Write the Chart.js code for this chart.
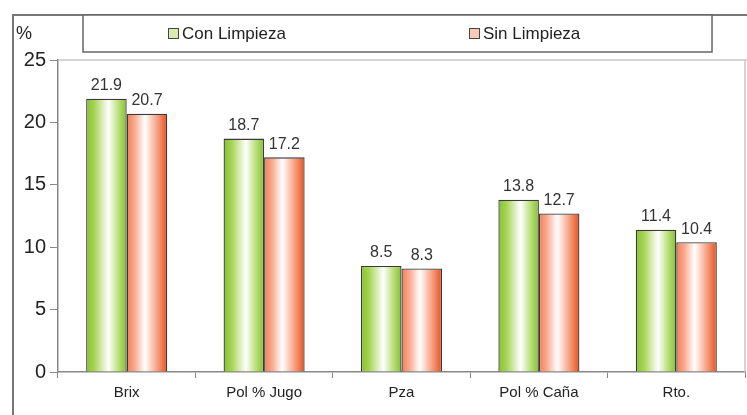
<!DOCTYPE html>
<html>
<head>
<meta charset="utf-8">
<script src="https://cdn.jsdelivr.net/npm/chart.js@4.4.1/dist/chart.umd.min.js"></script>
<style>
  html, body { margin: 0; padding: 0; background: #fff; }
  #wrap { width: 747px; height: 415px; position: relative; }
</style>
</head>
<body>
<div id="wrap"><canvas id="grafico"></canvas></div>
<script>
// Données du graphique
const categorias = ['Brix', 'Pol % Jugo', 'Pza', 'Pol % Caña', 'Rto.'];
const conLimpieza = [21.9, 18.7, 8.5, 13.8, 11.4];
const sinLimpieza = [20.7, 17.2, 8.3, 12.7, 10.4];
const etiquetasSeries = ['Con Limpieza', 'Sin Limpieza'];
const ticksY = [0, 5, 10, 15, 20, 25];

// dégradés horizontaux (effet cylindre)
const couleurs = [
  { arrets: [[0, '#86c232'], [0.2, '#a6d455'], [0.55, '#ffffff'], [0.8, '#b9df78'], [1, '#84bf30']], legende: '#d8ecb0' },
  { arrets: [[0, '#f47c55'], [0.2, '#f8ab90'], [0.45, '#ffffff'], [0.75, '#f7a183'], [1, '#e8501c']], legende: '#f9c9b8' }
];

const pluginDegrade = {
  id: 'degrade',
  beforeDatasetsDraw(chart) {
    const ctx = chart.ctx;
    chart.data.datasets.forEach((ds, i) => {
      const meta = chart.getDatasetMeta(i);
      meta.data.forEach(el => {
        const x0 = el.x - el.width / 2, x1 = el.x + el.width / 2;
        const g = ctx.createLinearGradient(x0, 0, x1, 0);
        couleurs[i].arrets.forEach(a => g.addColorStop(a[0], a[1]));
        el.options.backgroundColor = g;
      });
    });
  },
  afterDatasetsDraw(chart) {
    // valeurs au-dessus des barres
    const ctx = chart.ctx;
    ctx.save();
    ctx.font = '16px "Liberation Sans", Arial, sans-serif';
    ctx.fillStyle = '#333';
    ctx.textAlign = 'center';
    ctx.textBaseline = 'bottom';
    chart.data.datasets.forEach((ds, i) => {
      chart.getDatasetMeta(i).data.forEach((el, j) => {
        ctx.fillText(ds.data[j].toFixed(1), el.x, el.y - 5);
      });
    });
    ctx.restore();
  },
  afterDraw(chart) {
    const ctx = chart.ctx;
    const a = chart.chartArea;
    ctx.save();
    // cadre extérieur
    ctx.strokeStyle = '#777';
    ctx.lineWidth = 2;
    ctx.beginPath();
    ctx.moveTo(13, 415);
    ctx.lineTo(13, 15);
    ctx.lineTo(747, 15);
    ctx.stroke();
    // cadre de la zone de tracé (haut et droite)
    ctx.strokeStyle = '#c8c8c8';
    ctx.lineWidth = 1.5;
    ctx.beginPath();
    ctx.moveTo(a.left, a.top);
    ctx.lineTo(747, a.top);
    ctx.moveTo(a.right, a.top);
    ctx.lineTo(a.right, a.bottom);
    ctx.stroke();
    // boîte de légende
    ctx.fillStyle = '#fff';
    ctx.fillRect(83, 15, 629, 37);
    ctx.strokeStyle = '#666';
    ctx.lineWidth = 1.5;
    ctx.strokeRect(83, 15, 629, 37);
    ctx.font = '17px "Liberation Sans", Arial, sans-serif';
    ctx.textBaseline = 'middle';
    ctx.textAlign = 'left';
    const posX = [168, 469];
    etiquetasSeries.forEach((lab, i) => {
      ctx.fillStyle = couleurs[i].legende;
      ctx.fillRect(posX[i], 28, 10, 10);
      ctx.strokeStyle = '#444';
      ctx.lineWidth = 1;
      ctx.strokeRect(posX[i] + 0.5, 28.5, 10, 10);
      ctx.fillStyle = '#222';
      ctx.fillText(lab, posX[i] + 14, 34);
    });
    // unité
    ctx.font = '18px "Liberation Sans", Arial, sans-serif';
    ctx.fillStyle = '#222';
    ctx.fillText('%', 16, 34);
    ctx.restore();
  }
};

new Chart(document.getElementById('grafico'), {
  type: 'bar',
  data: {
    labels: categorias,
    datasets: etiquetasSeries.map((lab, i) => ({
      label: lab,
      data: i === 0 ? conLimpieza : sinLimpieza,
      backgroundColor: () => couleurs[i].arrets[4][1],
      borderColor: '#3a3a3a',
      borderWidth: 1.3,
      borderSkipped: 'bottom',
      categoryPercentage: 0.59,
      barPercentage: 1.0
    }))
  },
  options: {
    responsive: true,
    maintainAspectRatio: false,
    animation: false,
    layout: { padding: { left: 0, right: 2, top: 60, bottom: 0 } },
    plugins: {
      legend: { display: false },
      tooltip: { enabled: false }
    },
    scales: {
      x: {
        offset: true,
        grid: { drawOnChartArea: false, drawTicks: true, tickLength: 6, color: '#888', offset: true },
        border: { color: '#888', width: 1.5 },
        ticks: {
          color: '#222',
          padding: 6,
          font: { family: '"Liberation Sans", Arial, sans-serif', size: 15 }
        },
        afterFit(scale) { scale.height = 43; }
      },
      y: {
        min: 0,
        max: 25,
        afterBuildTicks(scale) { scale.ticks = ticksY.map(v => ({ value: v })); },
        grid: { drawOnChartArea: false, drawTicks: true, tickLength: 8, color: '#888' },
        border: { color: '#888', width: 1.5 },
        ticks: {
          color: '#222',
          padding: 4,
          font: { family: '"Liberation Sans", Arial, sans-serif', size: 20 }
        },
        afterFit(scale) { scale.width = 58; }
      }
    }
  },
  plugins: [pluginDegrade]
});
</script>
</body>
</html>
